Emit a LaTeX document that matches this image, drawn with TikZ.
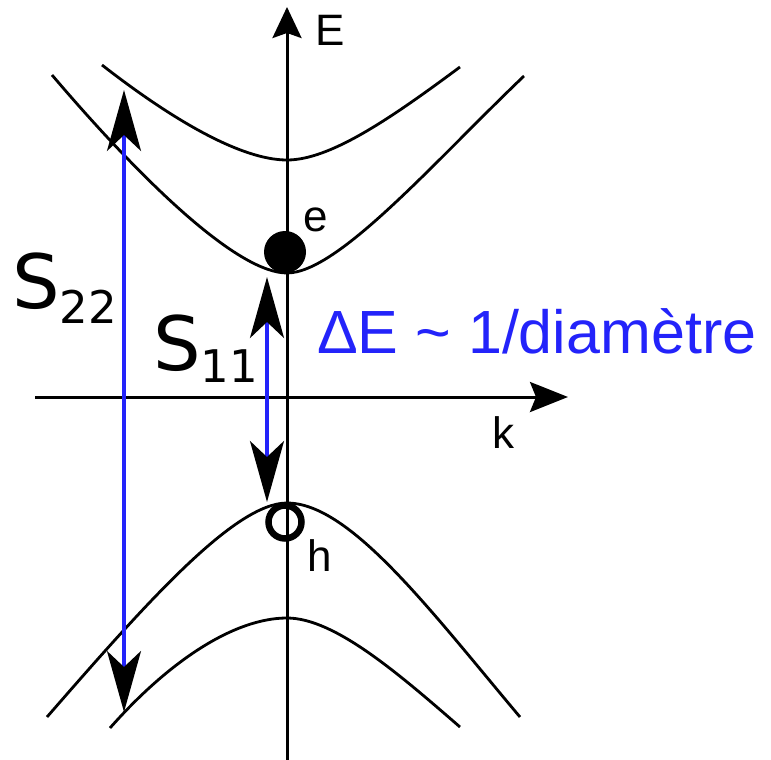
\documentclass[tikz,border=0pt]{standalone}
\usepackage{fontspec}
\setmainfont{Liberation Sans}
\newfontfamily\dvs{DejaVu Sans}
\usetikzlibrary{arrows.meta}
\definecolor{mblue}{RGB}{35,35,250}
\begin{document}
\begin{tikzpicture}[x=1pt,y=-1pt,
  band/.style={line width=2.8pt},
  axisline/.style={line width=3pt},
  trans/.style={draw=mblue,line width=3.5pt,
    {Stealth[length=61pt,width=34pt,inset=16pt,color=black]}-{Stealth[length=61pt,width=34pt,inset=16pt,color=black]}},
  lbl/.style={inner sep=0pt,font=\fontsize{44}{44}\selectfont},
  slbl/.style={inner sep=0pt,anchor=base west,font=\dvs\fontsize{75}{75}\selectfont}]
\useasboundingbox (0,0) rectangle (771,760);

% coordinates
\coordinate (ytop) at (287,7);
\coordinate (ybot) at (287,760);
\coordinate (xl) at (35,397);
\coordinate (xr) at (568,397);

% bands
\draw[band] (102,65) .. controls (170,118) and (240,160) .. (287,160)
  .. controls (330,160) and (390,119) .. (460,67);
\draw[band] (52,75) .. controls (150,190) and (240,273) .. (287,273)
  .. controls (338,273) and (434,162) .. (524,76);
\draw[band] (47,717) .. controls (147,602) and (235,503) .. (287,503)
  .. controls (350,503) and (430,610) .. (520,717);
\draw[band] (110,728) .. controls (170,660) and (235,618) .. (287,618)
  .. controls (335,618) and (400,675) .. (460,727);

% axes
\draw[axisline,-{Stealth[length=31pt,width=29pt,inset=5pt]}] (ybot) -- (ytop);
\draw[axisline,-{Stealth[length=38pt,width=30pt,inset=6pt]}] (xl) -- (xr);

% transitions
\coordinate (s22a) at (124,712);
\coordinate (s22b) at (124,90);
\coordinate (s11a) at (267,502);
\coordinate (s11b) at (267,277);
\draw[trans] (s22a) -- (s22b);
\draw[trans] (s11a) -- (s11b);

% carriers
\node[circle,fill=black,minimum size=42pt,inner sep=0pt] (elec) at (285,252) {};
\node[circle,draw=black,line width=6.5pt,minimum size=33pt,inner sep=0pt] (hole) at (285,522) {};

% labels
\node[lbl] (Elab) at (330,30) {E};
\node[lbl] (elab) at (316,220) {e};
\node[lbl] (hlab) at (320,556) {h};
\node[lbl] (klab) at (503,433) {k};
\node[slbl] (S22) at (12,308) {S\raisebox{-15pt}{\fontsize{45}{45}\selectfont 22}};
\node[slbl] (S11) at (153,370) {S\raisebox{-12pt}{\fontsize{45}{45}\selectfont 11}};
\node[inner sep=0pt,anchor=base west,text=mblue,font=\fontsize{61}{61}\selectfont] (dE) at (317,353) {ΔE \textasciitilde{} 1/diamètre};
\end{tikzpicture}
\end{document}
